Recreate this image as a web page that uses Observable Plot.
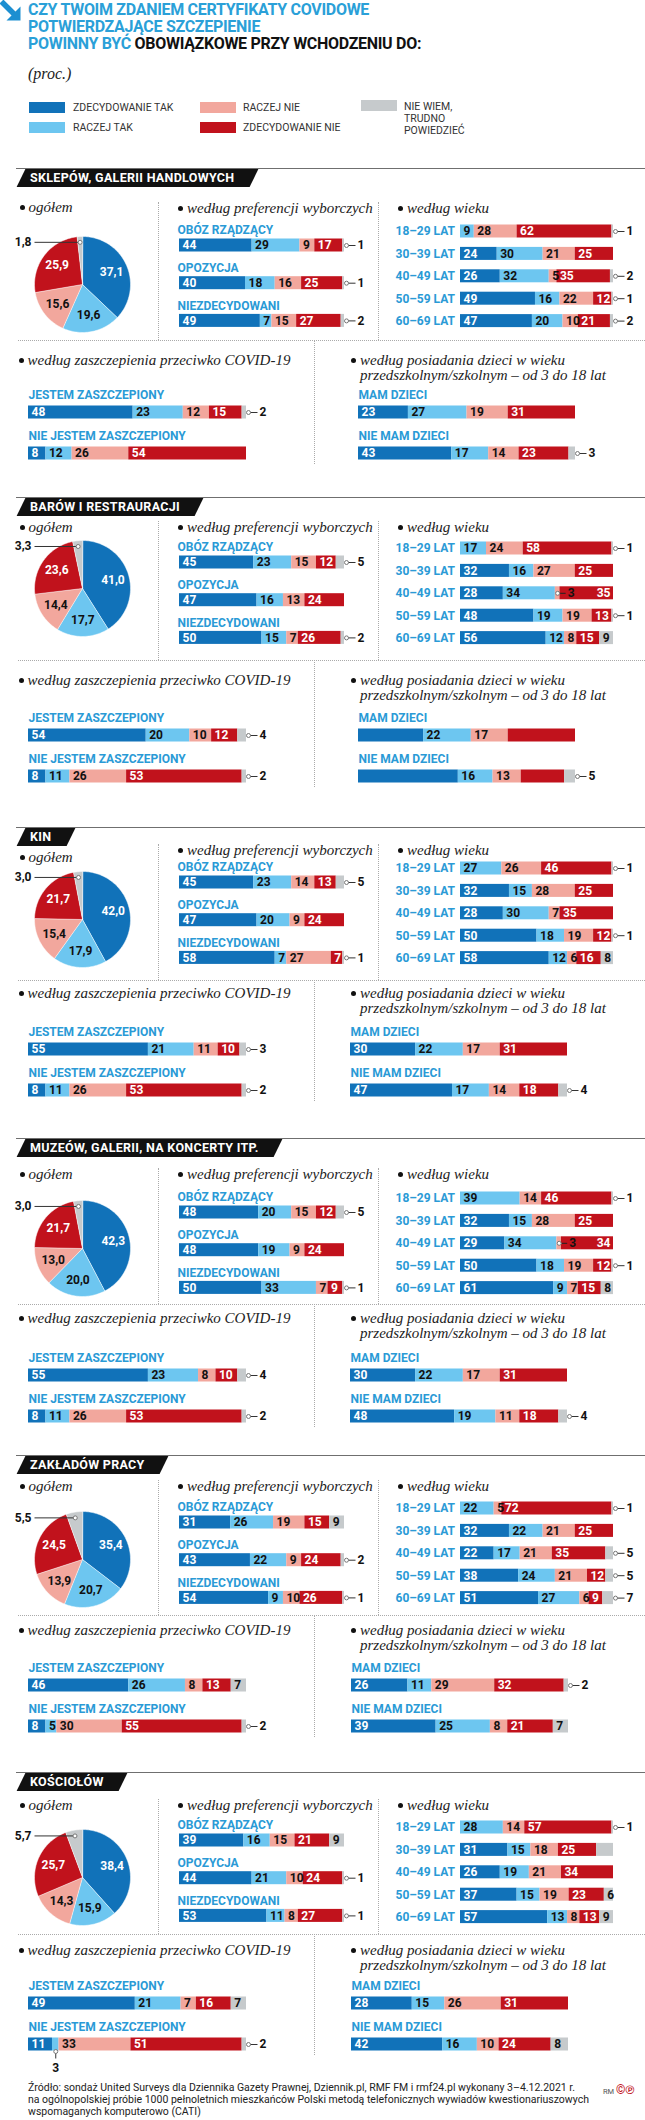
<!DOCTYPE html>
<html><head><meta charset="utf-8">
<script src="https://cdn.jsdelivr.net/npm/d3@7"></script>
<script src="https://cdn.jsdelivr.net/npm/@observablehq/plot@0.6"></script>
<style>
body{margin:0;background:#fff;}
#root{position:relative;width:645px;height:2120px;overflow:hidden;font-family:Roboto,"Open Sans",sans-serif;background:#fff;}
.sub{position:absolute;font-family:"Liberation Serif","DejaVu Serif",serif;font-style:italic;font-size:15px;line-height:16px;color:#222;white-space:nowrap;}
.bul{display:inline-block;width:5px;height:5px;border-radius:50%;background:#111;margin-right:4px;vertical-align:middle;position:relative;top:-1px;}
.lg{position:absolute;font:10.5px/12px Roboto,sans-serif;color:#333;white-space:nowrap;}
</style></head>
<body><div id="root"></div>
<script>
// ---------------- DATA ----------------
const answers = ["ZDECYDOWANIE TAK","RACZEJ TAK","RACZEJ NIE","ZDECYDOWANIE NIE","NIE WIEM, TRUDNO POWIEDZIEĆ"];
const answerColors = ["#1172b9","#6dc6f0","#f2a79d","#c1121c","#c6cacc"];
const places = ["SKLEPÓW, GALERII HANDLOWYCH","BARÓW I RESTRAURACJI","KIN","MUZEÓW, GALERII, NA KONCERTY ITP.","ZAKŁADÓW PRACY","KOŚCIOŁÓW"];
const prefGroups = ["OBÓZ RZĄDZĄCY","OPOZYCJA","NIEZDECYDOWANI"];
const ageGroups = ["18–29 LAT","30–39 LAT","40–49 LAT","50–59 LAT","60–69 LAT"];
const vaccGroups = ["JESTEM ZASZCZEPIONY","NIE JESTEM ZASZCZEPIONY"];
const kidsGroups = ["MAM DZIECI","NIE MAM DZIECI"];

const sklepyOgolem = [37.1,19.6,15.6,25.9,1.8];
const sklepyPartie = [[44,29,9,17,1],[40,18,16,25,1],[49,7,15,27,2]];
const sklepyWiek = [[0,9,28,62,1],[24,30,21,25,0],[26,32,5,35,2],[49,16,22,12,1],[47,20,10,21,2]];
const sklepySzczep = [[48,23,12,15,2],[8,12,26,54,0]];
const sklepyDzieci = [[23,27,19,31,0],[43,17,14,23,3]];

const baryOgolem = [41.0,17.7,14.4,23.6,3.3];
const baryPartie = [[45,23,15,12,5],[47,16,13,24,0],[50,15,7,26,2]];
const baryWiek = [[0,17,24,58,1],[32,16,27,25,0],[28,34,3,35,0],[48,19,19,13,1],[56,12,8,15,9]];
const barySzczep = [[54,20,10,12,4],[8,11,26,53,2]];
const baryDzieci = [[30,22,17,31,0],[46,16,13,20,5]];

const kinaOgolem = [42.0,17.9,15.4,21.7,3.0];
const kinaPartie = [[45,23,14,13,5],[47,20,9,24,0],[58,7,27,7,1]];
const kinaWiek = [[0,27,26,46,1],[32,15,28,25,0],[28,30,7,35,0],[50,18,19,12,1],[58,12,6,16,8]];
const kinaSzczep = [[55,21,11,10,3],[8,11,26,53,2]];
const kinaDzieci = [[30,22,17,31,0],[47,17,14,18,4]];

const muzeaOgolem = [42.3,20.0,13.0,21.7,3.0];
const muzeaPartie = [[48,20,15,12,5],[48,19,9,24,0],[50,33,7,9,1]];
const muzeaWiek = [[0,39,14,46,1],[32,15,28,25,0],[29,34,3,34,0],[50,18,19,12,1],[61,9,7,15,8]];
const muzeaSzczep = [[55,23,8,10,4],[8,11,26,53,2]];
const muzeaDzieci = [[30,22,17,31,0],[48,19,11,18,4]];

const zakladyOgolem = [35.4,20.7,13.9,24.5,5.5];
const zakladyPartie = [[31,26,19,15,9],[43,22,9,24,2],[54,9,10,26,1]];
const zakladyWiek = [[0,22,5,72,1],[32,22,21,25,0],[22,17,21,35,5],[38,24,21,12,5],[51,27,6,9,7]];
const zakladySzczep = [[46,26,8,13,7],[8,5,30,55,2]];
const zakladyDzieci = [[26,11,29,32,2],[39,25,8,21,7]];

const koscielyOgolem = [38.4,15.9,14.3,25.7,5.7];
const koscielyPartie = [[39,16,15,21,9],[44,21,10,24,1],[53,11,8,27,1]];
const koscielyWiek = [[0,28,14,57,1],[31,15,18,25,11],[26,19,21,34,0],[37,15,19,23,6],[57,13,8,13,9]];
const koscielySzczep = [[49,21,7,16,7],[11,3,33,51,2]];
const koscielyDzieci = [[28,15,26,31,0],[42,16,10,24,8]];

const ogolem = [sklepyOgolem, baryOgolem, kinaOgolem, muzeaOgolem, zakladyOgolem, koscielyOgolem];
const partie = [sklepyPartie, baryPartie, kinaPartie, muzeaPartie, zakladyPartie, koscielyPartie];
const wiek = [sklepyWiek, baryWiek, kinaWiek, muzeaWiek, zakladyWiek, koscielyWiek];
const szczep = [sklepySzczep, barySzczep, kinaSzczep, muzeaSzczep, zakladySzczep, koscielySzczep];
const dzieci = [sklepyDzieci, baryDzieci, kinaDzieci, muzeaDzieci, zakladyDzieci, koscielyDzieci];

// labels not printed in the original / gray labels drawn with a leader
const hiddenLabels = ["1|MAM DZIECI|0","1|MAM DZIECI|3","1|NIE MAM DZIECI|0","1|NIE MAM DZIECI|3","5|30–39 LAT|4"];
const forcedLeaders = ["4|60–69 LAT|4"];

// ---------------- LAYOUT ----------------
const sections = [
  {T:169, title:39, ogol:38, p1:75.5, pie:115, dot:171, bot:191, v1:243, kidsX:358},
  {T:498, title:29, ogol:29, p1:63.5, pie:90, dot:162, bot:182, v1:237, kidsX:358},
  {T:828, title:22, ogol:29, p1:53.5, pie:91, dot:152, bot:165, v1:220.5, kidsX:350},
  {T:1139, title:35, ogol:35, p1:72.5, pie:109, dot:165, bot:179, v1:236, kidsX:350},
  {T:1456, title:30, ogol:30, p1:65.5, pie:102.5, dot:159, bot:174, v1:228.5, kidsX:351},
  {T:1773, title:32, ogol:32, p1:67, pie:103.5, dot:161, bot:177, v1:230, kidsX:351}
];
const catBlue = "#2a9ad6";
const root = document.getElementById("root");
function el(css, html) {
  const e = document.createElement("div");
  e.style.cssText = "position:absolute;" + css;
  if (html != null) e.innerHTML = html;
  root.appendChild(e);
  return e;
}
function place(svg, top) {
  svg.style.position = "absolute";
  svg.style.left = "0px";
  svg.style.top = top + "px";
  root.appendChild(svg);
}
const baseStyle = {background: "transparent", overflow: "visible", fontFamily: "Roboto, sans-serif"};
const colorScale = {domain: answers, range: answerColors};
const txt = {fontWeight: "bold", fontSize: 12};

// ---------------- HEADER ----------------
el("left:0;top:0;width:22px;height:22px", `<svg width="22" height="22"><path d="M1.5 1.5 L14 14" stroke="#1d8fd1" stroke-width="5.5"/><polygon points="20.5,6.5 20.5,20.5 6.5,20.5" fill="#1d8fd1"/></svg>`);
el("left:28px;top:1px;font:bold 16px/17px Roboto,sans-serif;letter-spacing:-0.3px;color:#2aa0d8;white-space:nowrap;",
   "CZY TWOIM ZDANIEM CERTYFIKATY COVIDOWE<br>POTWIERDZAJĄCE SZCZEPIENIE<br>POWINNY BYĆ <span style='color:#111'>OBOWIĄZKOWE PRZY WCHODZENIU DO:</span>");
el("left:28px;top:65px;font:italic 16px/17px 'Liberation Serif',serif;color:#222;", "(proc.)");

const legendPos = [[29,102,73,102],[29,122,73,122],[200,102,243,102],[200,122,243,122],[361,100,404,101]];
const legendText = ["ZDECYDOWANIE TAK","RACZEJ TAK","RACZEJ NIE","ZDECYDOWANIE NIE","NIE WIEM,<br>TRUDNO<br>POWIEDZIEĆ"];
answers.forEach((a, i) => {
  const [sx, sy, lx, ly] = legendPos[i];
  el(`left:${sx}px;top:${sy}px;width:36px;height:11px;background:${answerColors[i]};`);
  const l = el(`top:${ly}px;left:${lx}px;`, legendText[i]);
  l.className = "lg";
});

// ---------------- PANELS ----------------
function barPanel(si, rows, vals, o) {
  const bw = 13, pad = 36;
  const top = o.c0 - pad;
  const n = rows.length;
  const pI = 1 - bw / o.step;
  const r0 = pad - bw / 2;
  const r1 = r0 + o.step * (n - pI);
  const height = Math.ceil(r1 + 45);
  const ppu = o.width / 100;
  const segs = [];
  rows.forEach((row, ri) => {
    let acc = 0;
    const rs = [];
    vals[ri].forEach((v, j) => {
      rs.push({row, ri, j, answer: answers[j], v, start: acc, end: acc + v, mid: acc + v / 2, key: `${si}|${row}|${j}`, mode: null});
      acc += v;
    });
    rs.forEach(d => { d.total = acc; segs.push(d); });
  });
  for (const d of segs) {
    if (d.v === 0 || hiddenLabels.includes(d.key)) { d.mode = "none"; continue; }
    if (d.j === 4) { d.mode = (d.v <= 5 || forcedLeaders.includes(d.key)) ? "out" : "in"; continue; }
    if (d.v <= 3) { d.mode = d.ri === n - 1 ? "below" : "side"; continue; }
    d.mode = "in";
  }
  for (const d of segs) if (d.mode === "side") {
    const nx = segs.find(e => e.row === d.row && e.j > d.j && e.v > 0);
    if (nx && nx.mode === "in") nx.mode = "inEnd";
  }
  const white = d => d.j === 0 || d.j === 3;
  const outs = segs.filter(d => d.mode === "out").map(d => ({...d, lx: d.total + 9 / ppu}));
  const sides = segs.filter(d => d.mode === "side").map(d => ({...d, lx: d.mid + 8 / ppu}));
  const belows = segs.filter(d => d.mode === "below");
  const svg = Plot.plot({
    width: 645, height,
    style: baseStyle,
    x: {domain: [0, 100], range: [o.x0, o.x0 + o.width], axis: null},
    y: {type: "band", domain: rows, range: [r0, r1], paddingInner: pI, paddingOuter: 0, align: 0.5, round: false, axis: null},
    color: colorScale,
    marks: [
      Plot.barX(segs, {x1: "start", x2: "end", y: "row", fill: "answer"}),
      Plot.text(segs.filter(d => d.mode === "in" && white(d)), {x: "start", y: "row", text: "v", textAnchor: "start", dx: 3, fill: "white", ...txt}),
      Plot.text(segs.filter(d => d.mode === "in" && !white(d)), {x: "start", y: "row", text: "v", textAnchor: "start", dx: 3, fill: "#111", ...txt}),
      Plot.text(segs.filter(d => d.mode === "inEnd" && white(d)), {x: "end", y: "row", text: "v", textAnchor: "end", dx: -3, fill: "white", ...txt}),
      Plot.text(segs.filter(d => d.mode === "inEnd" && !white(d)), {x: "end", y: "row", text: "v", textAnchor: "end", dx: -3, fill: "#111", ...txt}),
      Plot.link(outs, {x1: "total", x2: "lx", y1: "row", y2: "row", dx: 2, stroke: "#333", strokeWidth: 1}),
      Plot.dot(outs, {x: "total", y: "row", dx: 2, r: 2, fill: "white", stroke: "#777", strokeWidth: 1}),
      Plot.text(outs, {x: "lx", y: "row", text: "v", dx: 4, textAnchor: "start", fill: "#111", ...txt}),
      Plot.link(sides, {x1: "mid", x2: "lx", y1: "row", y2: "row", stroke: "#222", strokeWidth: 1}),
      Plot.dot(sides, {x: "mid", y: "row", r: 2, fill: "white", stroke: "#777", strokeWidth: 1}),
      Plot.text(sides, {x: "lx", y: "row", text: "v", dx: 2, textAnchor: "start", fill: "#111", ...txt}),
      Plot.tickX(belows, {x: "mid", y: "row", dy: 8, insetTop: 7, stroke: "#333", strokeWidth: 1}),
      Plot.dot(belows, {x: "mid", y: "row", dy: 7, r: 2, fill: "white", stroke: "#777", strokeWidth: 1}),
      Plot.text(belows, {x: "mid", y: "row", dy: 24, text: "v", fill: "#111", ...txt}),
      Plot.text(rows, {x: 0, y: d => d, text: d => d, textAnchor: "start", dx: o.ldx, dy: o.ldy, fill: catBlue, fontWeight: "bold", fontSize: 12})
    ]
  });
  place(svg, top);
}

function piePanel(si, vals) {
  const s = sections[si];
  const cy = s.T + s.pie, cx = 82, r = 48, lcy = 60;
  const arcs = d3.pie().sort(null).value(d => d)(vals);
  const poly = [];
  arcs.forEach((a, j) => {
    const steps = Math.max(2, Math.ceil((a.endAngle - a.startAngle) / 0.03));
    poly.push({answer: answers[j], px: 0, py: 0});
    for (let k = 0; k <= steps; k++) {
      const t = a.startAngle + (a.endAngle - a.startAngle) * k / steps;
      poly.push({answer: answers[j], px: Math.sin(t), py: Math.cos(t)});
    }
  });
  const labs = arcs.map((a, j) => {
    const m = (a.startAngle + a.endAngle) / 2;
    return {j, text: vals[j].toFixed(1).replace(".", ","), lx: 0.66 * Math.sin(m), ly: 0.66 * Math.cos(m), gx: 0.88 * Math.sin(m), gy: 0.88 * Math.cos(m)};
  });
  const gray = labs.filter(d => d.j === 4);
  const svg = Plot.plot({
    width: 645, height: 130,
    style: baseStyle,
    x: {domain: [-1, 1], range: [cx - r, cx + r], axis: null},
    y: {domain: [-1, 1], range: [lcy + r, lcy - r], axis: null},
    color: colorScale,
    marks: [
      Plot.line(poly, {x: "px", y: "py", z: "answer", fill: "answer", stroke: "white", strokeWidth: 0.5, curve: "linear-closed"}),
      Plot.text(labs.filter(d => d.j === 0 || d.j === 3), {x: "lx", y: "ly", text: "text", fill: "white", ...txt}),
      Plot.text(labs.filter(d => d.j === 1 || d.j === 2), {x: "lx", y: "ly", text: "text", fill: "#111", ...txt}),
      Plot.link(gray, {x1: "gx", y1: "gy", x2: -1, y2: "gy", stroke: "#333", strokeWidth: 1}),
      Plot.dot(gray, {x: "gx", y: "gy", r: 2, fill: "white", stroke: "#777", strokeWidth: 1}),
      Plot.text(gray, {x: -1, y: "gy", text: "text", textAnchor: "end", dx: -3, fill: "#111", ...txt})
    ]
  });
  place(svg, cy - lcy);
}

function sub(left, centerY, html) {
  const e = el(`left:${left}px;top:${centerY - 8}px;`, `<span class="bul"></span>${html}`);
  e.className = "sub";
  return e;
}
function dotted(css) { el(css); }

sections.forEach((s, si) => {
  const T = s.T;
  // section header
  el(`left:16px;top:${T - 0.75}px;width:629px;height:0;border-top:1.5px solid #6f6f6f;`);
  el(`left:20.5px;top:${T}px;height:18px;background:#111;transform:skewX(-26deg);padding:0 20px 0 8.5px;`,
     `<div style="transform:skewX(26deg);font:bold 12.5px/18px Roboto,sans-serif;letter-spacing:0.3px;color:#fff;white-space:nowrap;">${places[si]}</div>`);
  // separators
  dotted(`left:157.5px;top:${T + s.title - 6}px;height:${s.dot - s.title + 6}px;border-left:1.5px dotted #aaa;`);
  dotted(`left:378px;top:${T + s.title - 6}px;height:${s.dot - s.title + 6}px;border-left:1.5px dotted #aaa;`);
  dotted(`left:18px;top:${T + s.dot}px;width:627px;border-top:1.5px dotted #aaa;`);
  dotted(`left:313.5px;top:${T + s.dot}px;height:${s.v1 + 52 - s.dot}px;border-left:1.5px dotted #aaa;`);
  // titles
  sub(19.5, T + s.ogol, "ogółem");
  sub(178, T + s.title, "według preferencji wyborczych");
  sub(398, T + s.title, "według wieku");
  sub(18.5, T + s.bot, "według zaszczepienia przeciwko COVID-19");
  const k = el(`left:351px;top:${T + s.bot - 7.5}px;line-height:15px;`, `<span class="bul"></span>według posiadania dzieci w wieku<br><span style="padding-left:9px">przedszkolnym/szkolnym – od 3 do 18 lat</span>`);
  k.className = "sub";
  k.style.lineHeight = "15px";
  // charts
  piePanel(si, ogolem[si]);
  barPanel(si, prefGroups, partie[si], {x0: 179, width: 165, c0: T + s.p1, step: 37.7, ldx: -2, ldy: -15});
  barPanel(si, ageGroups, wiek[si], {x0: 460, width: 153, c0: T + s.p1 - 13.5, step: 22.4, ldx: 395 - 460, ldy: 0});
  barPanel(si, vaccGroups, szczep[si], {x0: 28, width: 218, c0: T + s.v1, step: 41, ldx: 0, ldy: -17});
  barPanel(si, kidsGroups, dzieci[si], {x0: s.kidsX, width: 217, c0: T + s.v1, step: 41, ldx: 0, ldy: -17});
});

// ---------------- FOOTER ----------------
el("left:28px;top:2082px;font:10.5px/12px Roboto,sans-serif;color:#222;white-space:nowrap;",
   "Źródło: sondaż United Surveys dla Dziennika Gazety Prawnej, Dziennik.pl, RMF FM i rmf24.pl wykonany 3–4.12.2021 r.<br>na ogólnopolskiej próbie 1000 pełnoletnich mieszkańców Polski metodą telefonicznych wywiadów kwestionariuszowych<br>wspomaganych komputerowo (CATI)");
el("left:603px;top:2083px;font:7.5px/14px Roboto,sans-serif;color:#555;white-space:nowrap;",
   "RM <span style='color:#c1121c;font-size:12px;font-weight:bold'>©℗</span>");
</script></body></html>
